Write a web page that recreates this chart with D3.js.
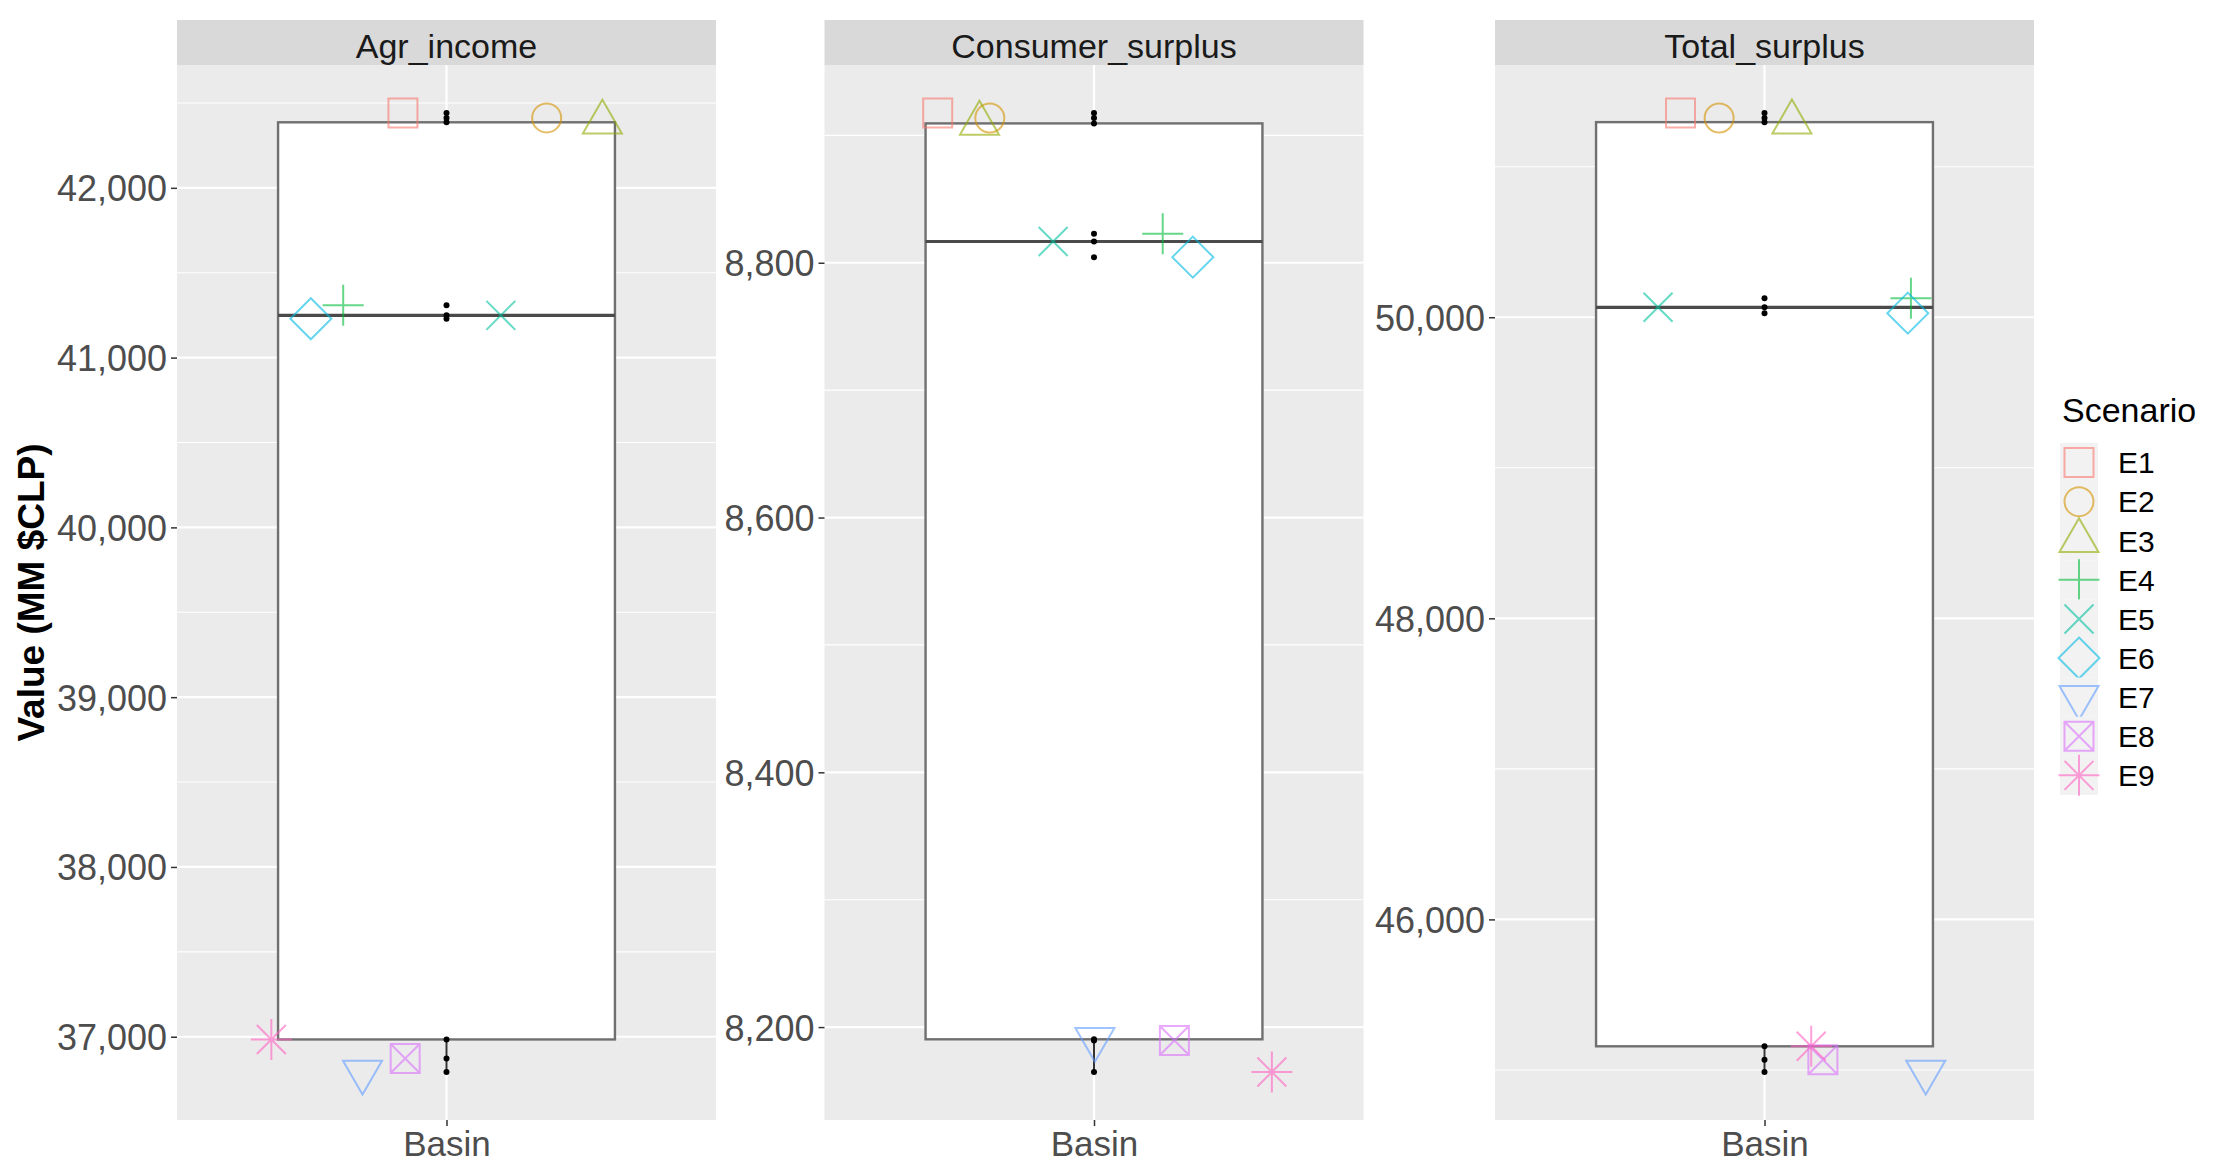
<!DOCTYPE html>
<html><head><meta charset="utf-8">
<script src="https://cdn.jsdelivr.net/npm/d3@7"></script>
<style>body{margin:0;background:#fff;} svg{display:block;}</style>
</head><body>
<svg id="chart" width="2214" height="1175"></svg>
<script>
// ---------------- DATA ----------------
const scenarios = ["E1","E2","E3","E4","E5","E6","E7","E8","E9"];
const scenarioShapes = [0,1,2,3,4,5,6,7,8];           // R pch codes
const scenarioColors = ["#F8766D","#D39200","#93AA00","#00BA38","#00C19F","#00B9E3","#619CFF","#DB72FB","#FF61C3"];
const facetNames = ["Agr_income","Consumer_surplus","Total_surplus"];
const categoryLabel = "Basin";

const agrIncome       = [42441, 42412, 42386, 41308, 41249, 41229, 36792, 36872, 36984];
const consumerSurplus = [8917.6, 8913.7, 8909.4, 8822.7, 8816.7, 8804.4, 8190.4, 8189.5, 8164.7];
const totalSurplus    = [51357, 51323, 51296, 50126, 50066, 50027, 44986, 45068, 45157];

// horizontal jitter positions of the scenario markers (x units, category at 1)
const agrJitter       = [0.903, 1.223, 1.347, 0.770, 1.121, 0.698, 0.813, 0.908, 0.610];
const consumerJitter  = [0.652, 0.768, 0.745, 1.153, 0.909, 1.220, 1.002, 1.179, 1.396];
const totalJitter     = [0.813, 0.899, 1.061, 1.326, 0.763, 1.319, 1.359, 1.130, 1.104];

const agrTicks        = [37000, 38000, 39000, 40000, 41000, 42000];
const agrMinor        = [37500, 38500, 39500, 40500, 41500, 42500];
const consumerTicks   = [8200, 8400, 8600, 8800];
const consumerMinor   = [8300, 8500, 8700, 8900];
const totalTicks      = [46000, 48000, 50000];
const totalMinor      = [45000, 47000, 49000, 51000];

const yTitle = "Value (MM $CLP)";
const legendTitle = "Scenario";

// ---------------- LAYOUT ----------------
const svg = d3.select("#chart");
const FONT = "'Liberation Sans', Arial, Helvetica, sans-serif";
const panelLefts = [177, 824.5, 1495];
const panelW = 539, panelTop = 65, panelBottom = 1120, stripTop = 20;
const R = 14.5;

const facets = [
  {name: facetNames[0], values: agrIncome, jitter: agrJitter, ticks: agrTicks, minor: agrMinor},
  {name: facetNames[1], values: consumerSurplus, jitter: consumerJitter, ticks: consumerTicks, minor: consumerMinor},
  {name: facetNames[2], values: totalSurplus, jitter: totalJitter, ticks: totalTicks, minor: totalMinor}
];

function symbolPath(pch, R) {
  const p = d3.path();
  const s2 = Math.SQRT2 * R;
  const r = 1.5551 * R, xc = r * Math.sqrt(3) / 2, yc = r / 2;
  switch (pch) {
    case 0: p.rect(-R, -R, 2*R, 2*R); break;
    case 1: p.moveTo(R, 0); p.arc(0, 0, R, 0, 2*Math.PI); break;
    case 2: p.moveTo(0, -r); p.lineTo(xc, yc); p.lineTo(-xc, yc); p.closePath(); break;
    case 3: p.moveTo(-s2, 0); p.lineTo(s2, 0); p.moveTo(0, -s2); p.lineTo(0, s2); break;
    case 4: p.moveTo(-R, -R); p.lineTo(R, R); p.moveTo(-R, R); p.lineTo(R, -R); break;
    case 5: p.moveTo(0, -s2); p.lineTo(s2, 0); p.lineTo(0, s2); p.lineTo(-s2, 0); p.closePath(); break;
    case 6: p.moveTo(0, r); p.lineTo(xc, -yc); p.lineTo(-xc, -yc); p.closePath(); break;
    case 7: p.rect(-R, -R, 2*R, 2*R); p.moveTo(-R, -R); p.lineTo(R, R); p.moveTo(-R, R); p.lineTo(R, -R); break;
    case 8: p.moveTo(-R, -R); p.lineTo(R, R); p.moveTo(-R, R); p.lineTo(R, -R);
            p.moveTo(-s2, 0); p.lineTo(s2, 0); p.moveTo(0, -s2); p.lineTo(0, s2); break;
  }
  return p.toString();
}

facets.forEach((f, fi) => {
  const left = panelLefts[fi];
  const g = svg.append("g");
  const x = d3.scaleLinear().domain([0.4, 1.6]).range([left, left + panelW]);
  const ext = d3.extent(f.values);
  const pad = (ext[1] - ext[0]) * 0.05;
  const y = d3.scaleLinear().domain([ext[0] - pad, ext[1] + pad]).range([panelBottom, panelTop]);

  // strip
  g.append("rect").attr("x", left).attr("y", stripTop).attr("width", panelW).attr("height", panelTop - stripTop).attr("fill", "#D9D9D9");
  g.append("text").attr("x", left + panelW/2).attr("y", 57.5).attr("text-anchor", "middle")
    .attr("font-family", FONT).attr("font-size", 34).attr("fill", "#1A1A1A").text(f.name);

  // panel background
  g.append("rect").attr("x", left).attr("y", panelTop).attr("width", panelW).attr("height", panelBottom - panelTop).attr("fill", "#EBEBEB");

  // grid
  g.selectAll(".minor").data(f.minor.filter(v => v >= y.domain()[0] && v <= y.domain()[1])).enter().append("line")
    .attr("x1", left).attr("x2", left + panelW).attr("y1", d => y(d)).attr("y2", d => y(d))
    .attr("stroke", "#fff").attr("stroke-width", 1.1);
  g.selectAll(".major").data(f.ticks).enter().append("line")
    .attr("x1", left).attr("x2", left + panelW).attr("y1", d => y(d)).attr("y2", d => y(d))
    .attr("stroke", "#fff").attr("stroke-width", 2.2);
  g.append("line").attr("x1", x(1)).attr("x2", x(1)).attr("y1", panelTop).attr("y2", panelBottom)
    .attr("stroke", "#fff").attr("stroke-width", 2.2);

  // boxplot stats
  const sorted = f.values.slice().sort(d3.ascending);
  const q1 = d3.quantileSorted(sorted, 0.25), med = d3.quantileSorted(sorted, 0.5), q3 = d3.quantileSorted(sorted, 0.75);
  const iqr = q3 - q1;
  const lo = d3.min(sorted.filter(v => v >= q1 - 1.5*iqr));
  const hi = d3.max(sorted.filter(v => v <= q3 + 1.5*iqr));
  const bw = 0.75;
  g.append("line").attr("x1", x(1)).attr("x2", x(1)).attr("y1", y(q3)).attr("y2", y(hi)).attr("stroke", "#333").attr("stroke-width", 2);
  g.append("line").attr("x1", x(1)).attr("x2", x(1)).attr("y1", y(q1)).attr("y2", y(lo)).attr("stroke", "#333").attr("stroke-width", 2);
  g.append("rect").attr("x", x(1 - bw/2)).attr("y", y(q3)).attr("width", x(1 + bw/2) - x(1 - bw/2)).attr("height", y(q1) - y(q3))
    .attr("fill", "#fff").attr("stroke", "#707070").attr("stroke-width", 2.4);
  g.append("line").attr("x1", x(1 - bw/2)).attr("x2", x(1 + bw/2)).attr("y1", y(med)).attr("y2", y(med))
    .attr("stroke", "#4a4a4a").attr("stroke-width", 3.2);

  // data points (black)
  g.selectAll(".dot").data(f.values).enter().append("circle")
    .attr("cx", x(1)).attr("cy", d => y(d)).attr("r", 3).attr("fill", "#000");

  // scenario markers
  g.selectAll(".mk").data(f.values).enter().append("path")
    .attr("transform", (d, i) => `translate(${x(f.jitter[i])},${y(d)})`)
    .attr("d", (d, i) => symbolPath(scenarioShapes[i], R))
    .attr("fill", "none").attr("stroke", (d, i) => scenarioColors[i]).attr("stroke-opacity", 0.6).attr("stroke-width", 2);

  // y axis
  const ya = g.append("g").attr("transform", `translate(${left},0)`)
    .call(d3.axisLeft(y).tickValues(f.ticks).tickFormat(d3.format(",")).tickSize(6).tickPadding(4));
  ya.select(".domain").remove();
  ya.selectAll(".tick line").attr("stroke", "#333").attr("stroke-width", 1.5);
  ya.selectAll(".tick text").attr("font-family", FONT).attr("font-size", 36).attr("fill", "#4D4D4D").attr("dy", "0.36em");

  // x axis
  const xa = g.append("g").attr("transform", `translate(0,${panelBottom})`)
    .call(d3.axisBottom(x).tickValues([1]).tickFormat(() => categoryLabel).tickSize(6).tickPadding(4));
  xa.select(".domain").remove();
  xa.selectAll(".tick line").attr("stroke", "#333").attr("stroke-width", 1.5);
  xa.selectAll(".tick text").attr("font-family", FONT).attr("font-size", 35).attr("fill", "#4D4D4D")
    .attr("dy", null).attr("y", 36);
});

// y axis title
svg.append("text").attr("transform", `translate(44,${(panelTop + panelBottom)/2}) rotate(-90)`)
  .attr("text-anchor", "middle").attr("font-family", FONT).attr("font-weight", "bold").attr("font-size", 37)
  .attr("fill", "#000").text(yTitle);

// legend
const lg = svg.append("g");
lg.append("text").attr("x", 2062).attr("y", 422).attr("font-family", FONT).attr("font-size", 34).attr("fill", "#000").text(legendTitle);
const keyH = 39.1, keyTop = 443, keyX = 2060, keyW = 38;
scenarios.forEach((s, i) => {
  const cy = keyTop + keyH * i + keyH / 2;
  lg.append("rect").attr("x", keyX).attr("y", keyTop + keyH * i).attr("width", keyW).attr("height", keyH).attr("fill", "#F2F2F2");
  lg.append("path").attr("transform", `translate(${keyX + keyW/2},${cy})`).attr("d", symbolPath(scenarioShapes[i], R))
    .attr("fill", "none").attr("stroke", scenarioColors[i]).attr("stroke-opacity", 0.6).attr("stroke-width", 2);
  lg.append("text").attr("x", 2118).attr("y", cy).attr("dy", "0.36em").attr("font-family", FONT).attr("font-size", 30)
    .attr("fill", "#000").text(s);
});
</script>
</body></html>
